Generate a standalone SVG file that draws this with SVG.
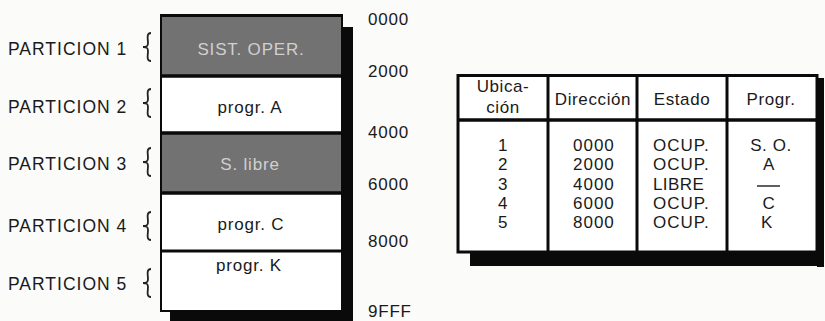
<svg xmlns="http://www.w3.org/2000/svg" width="825" height="321" viewBox="0 0 825 321">
<style>
.lbl{font-family:"Liberation Sans",Arial,sans-serif;font-size:17.5px;letter-spacing:1px;fill:#1a1a1a}
.addr{font-family:"Liberation Sans",Arial,sans-serif;font-size:17px;letter-spacing:0.8px;fill:#1a1a1a}
.blk{font-family:"Liberation Sans",Arial,sans-serif;font-size:17px;letter-spacing:0.8px;fill:#1a1a1a;text-anchor:middle}
.blkd{font-family:"Liberation Sans",Arial,sans-serif;font-size:17px;letter-spacing:0.8px;fill:#d0d0d0;text-anchor:middle}
.th{font-family:"Liberation Sans",Arial,sans-serif;font-size:17px;letter-spacing:0.6px;fill:#1a1a1a;text-anchor:middle}
.td{font-family:"Liberation Sans",Arial,sans-serif;font-size:17px;letter-spacing:1px;fill:#1a1a1a}
.tdc{font-family:"Liberation Sans",Arial,sans-serif;font-size:17px;letter-spacing:0.6px;fill:#1a1a1a;text-anchor:middle}
.brace{fill:none;stroke:#222;stroke-width:1.8}
.dark{fill:#727272}
.white{fill:#ffffff}
.sh{fill:#0a0a0a}
.ln{stroke:#0a0a0a;fill:none}
</style>
<defs>
<path id="br" class="brace" d="M6,-14 C1,-14 3,-8 3,-4 C3,-1 2,0 -2,0 C2,0 3,1 3,4 C3,8 1,14 6,14"/>
</defs>
<rect width="825" height="321" fill="#fbfbfa"/>

<g id="labels">
<text class="lbl" x="8" y="55">PARTICION 1</text>
<text class="lbl" x="8" y="113">PARTICION 2</text>
<text class="lbl" x="8" y="170">PARTICION 3</text>
<text class="lbl" x="8" y="232">PARTICION 4</text>
<text class="lbl" x="8" y="290">PARTICION 5</text>
<use href="#br" x="145" y="47"/>
<use href="#br" x="145" y="103"/>
<use href="#br" x="145" y="162"/>
<use href="#br" x="145" y="226"/>
<use href="#br" x="145" y="283"/>
</g>

<g id="memory">
<rect class="sh" x="342" y="27" width="11" height="294"/>
<rect class="sh" x="170" y="311" width="183" height="10"/>
<rect class="dark" x="161" y="15" width="181" height="61"/>
<rect class="white" x="161" y="76" width="181" height="57"/>
<rect class="dark" x="161" y="133" width="181" height="60"/>
<rect class="white" x="161" y="193" width="181" height="58"/>
<rect class="white" x="161" y="251" width="181" height="60"/>
<rect class="ln" x="161" y="16" width="181" height="295" stroke-width="2"/>
<line class="ln" x1="160" y1="15.5" x2="343" y2="15.5" stroke-width="3"/>
<line class="ln" x1="161" y1="76" x2="342" y2="76" stroke-width="3.5"/>
<line class="ln" x1="161" y1="133" x2="342" y2="133" stroke-width="3.5"/>
<line class="ln" x1="161" y1="193" x2="342" y2="193" stroke-width="3.5"/>
<line class="ln" x1="161" y1="251" x2="342" y2="251" stroke-width="3"/>
<text class="blkd" x="251" y="55">SIST. OPER.</text>
<text class="blk" x="250" y="113">progr. A</text>
<text class="blkd" x="250" y="170">S. libre</text>
<text class="blk" x="251" y="230">progr. C</text>
<text class="blk" x="249" y="271">progr. K</text>
</g>

<g id="addresses">
<text class="addr" x="368" y="25">0000</text>
<text class="addr" x="368" y="77">2000</text>
<text class="addr" x="368" y="138">4000</text>
<text class="addr" x="368" y="190">6000</text>
<text class="addr" x="368" y="247">8000</text>
<text class="addr" x="368" y="317">9FFF</text>
</g>

<g id="table">
<rect class="sh" x="817" y="78" width="7" height="189"/>
<rect class="sh" x="470" y="252" width="354" height="14"/>
<rect class="white" x="458" y="75" width="359" height="177"/>
<rect class="ln" x="458" y="75.5" width="359" height="176.5" stroke-width="3"/>
<line class="ln" x1="458" y1="120" x2="817" y2="120" stroke-width="3.5"/>
<line class="ln" x1="548" y1="75" x2="548" y2="252" stroke-width="3"/>
<line class="ln" x1="637" y1="75" x2="637" y2="252" stroke-width="3"/>
<line class="ln" x1="727" y1="75" x2="727" y2="252" stroke-width="3"/>
<text class="th" x="503" y="92">Ubica-</text>
<text class="th" x="503" y="113">ción</text>
<text class="th" x="593" y="105">Dirección</text>
<text class="th" x="682" y="105">Estado</text>
<text class="th" x="771" y="105">Progr.</text>
<text class="tdc" x="503" y="151">1</text>
<text class="tdc" x="503" y="170">2</text>
<text class="tdc" x="503" y="190">3</text>
<text class="tdc" x="503" y="209">4</text>
<text class="tdc" x="503" y="228">5</text>
<text class="td" x="573" y="151">0000</text>
<text class="td" x="573" y="170">2000</text>
<text class="td" x="573" y="190">4000</text>
<text class="td" x="573" y="209">6000</text>
<text class="td" x="573" y="228">8000</text>
<text class="td" x="653" y="151">OCUP.</text>
<text class="td" x="653" y="170">OCUP.</text>
<text class="td" x="653" y="190" style="letter-spacing:0.4px">LIBRE</text>
<text class="td" x="653" y="209">OCUP.</text>
<text class="td" x="653" y="228">OCUP.</text>
<text class="tdc" x="771" y="151">S. O.</text>
<text class="tdc" x="769" y="170">A</text>
<line class="ln" x1="757" y1="186" x2="780" y2="186" stroke-width="1.3"/>
<text class="tdc" x="769" y="209">C</text>
<text class="tdc" x="767" y="228">K</text>
</g>
</svg>
